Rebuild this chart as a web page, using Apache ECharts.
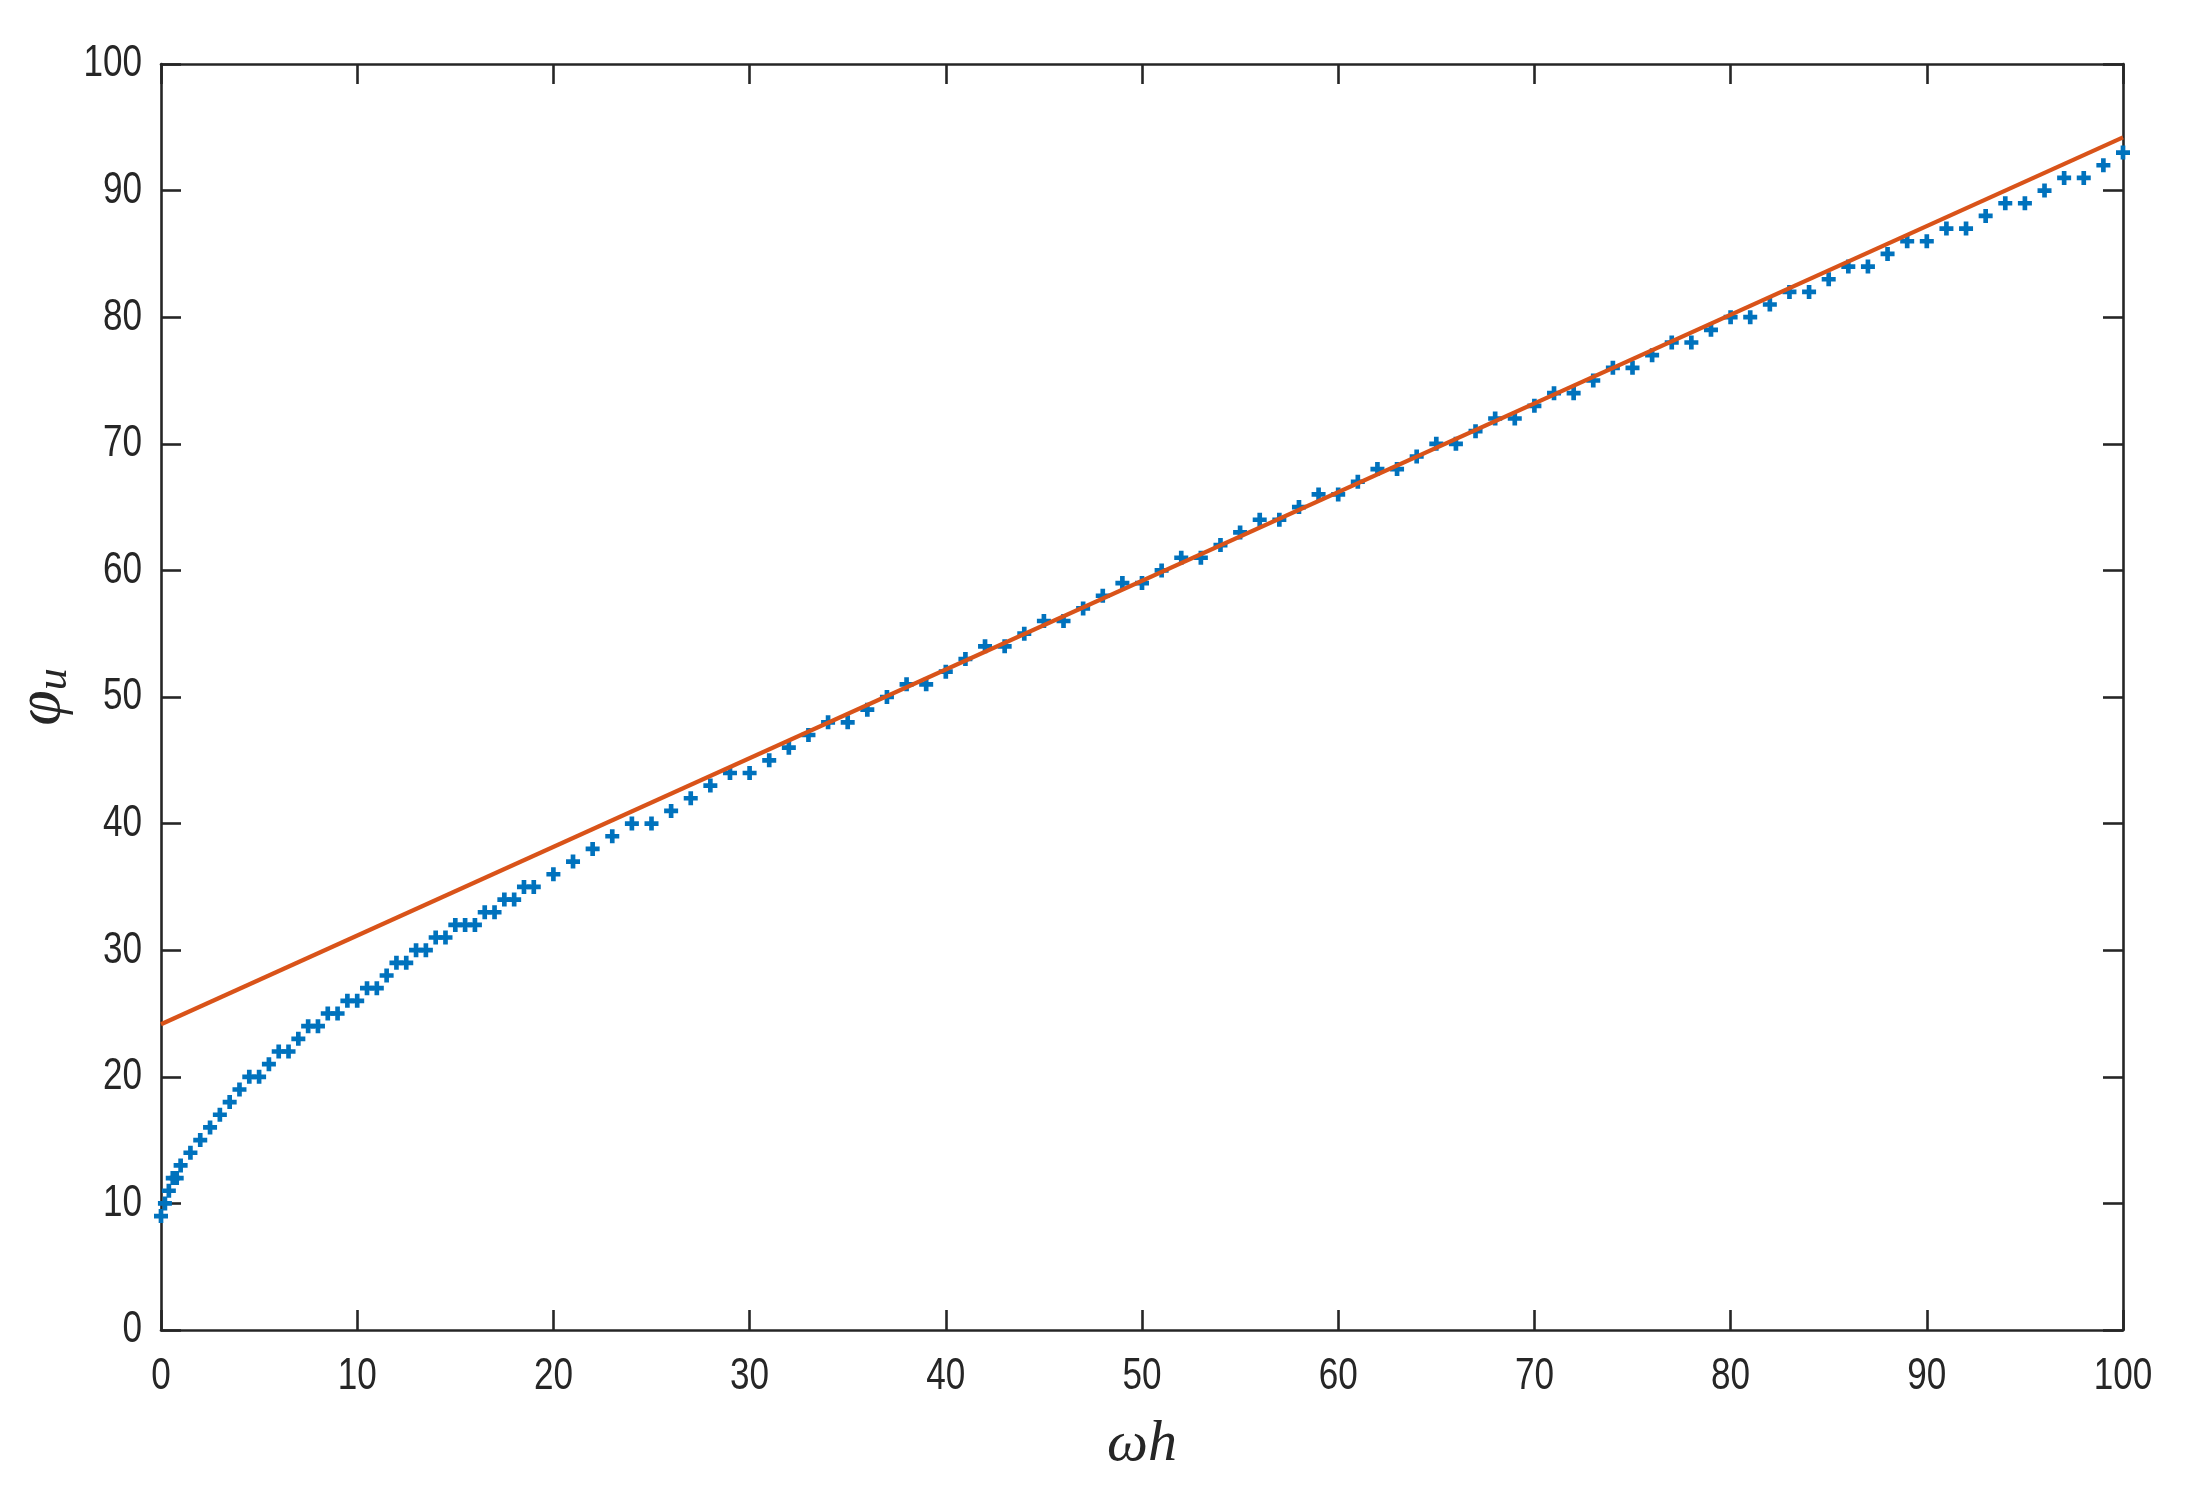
<!DOCTYPE html>
<html>
<head>
<meta charset="utf-8">
<script src="https://cdn.jsdelivr.net/npm/echarts@6/dist/echarts.min.js"></script>
<style>
html,body{margin:0;padding:0;background:#fff;}
#chart{width:2187px;height:1497px;}
</style>
</head>
<body>
<div id="chart"></div>
<script>
// ----- data -----
const omegaH = [0, 0.2, 0.4, 0.6, 0.8, 1.0, 1.5, 2, 2.5, 3, 3.5, 4, 4.5, 5, 5.5, 6, 6.5, 7, 7.5, 8, 8.5, 9, 9.5, 10,
  10.5, 11, 11.5, 12, 12.5, 13, 13.5, 14, 14.5, 15, 15.5, 16, 16.5, 17, 17.5, 18, 18.5, 19,
  20, 21, 22, 23, 24, 25, 26, 27, 28, 29, 30, 31, 32, 33, 34, 35, 36, 37, 38, 39, 40,
  41, 42, 43, 44, 45, 46, 47, 48, 49, 50, 51, 52, 53, 54, 55, 56, 57, 58, 59, 60,
  61, 62, 63, 64, 65, 66, 67, 68, 69, 70, 71, 72, 73, 74, 75, 76, 77, 78, 79, 80,
  81, 82, 83, 84, 85, 86, 87, 88, 89, 90, 91, 92, 93, 94, 95, 96, 97, 98, 99, 100];
const phiU = [9, 10, 11, 12, 12, 13, 14, 15, 16, 17, 18, 19, 20, 20, 21, 22, 22, 23, 24, 24, 25, 25, 26, 26,
  27, 27, 28, 29, 29, 30, 30, 31, 31, 32, 32, 32, 33, 33, 34, 34, 35, 35,
  36, 37, 38, 39, 40, 40, 41, 42, 43, 44, 44, 45, 46, 47, 48, 48, 49, 50, 51, 51, 52,
  53, 54, 54, 55, 56, 56, 57, 58, 59, 59, 60, 61, 61, 62, 63, 64, 64, 65, 66, 66,
  67, 68, 68, 69, 70, 70, 71, 72, 72, 73, 74, 74, 75, 76, 76, 77, 78, 78, 79, 80,
  80, 81, 82, 82, 83, 84, 84, 85, 86, 86, 87, 87, 88, 89, 89, 90, 91, 91, 92, 93];
const fitX = [0, 100];
const fitY = [24.15, 94.2];
const xTickLabels = [0, 10, 20, 30, 40, 50, 60, 70, 80, 90, 100];
const yTickLabels = [0, 10, 20, 30, 40, 50, 60, 70, 80, 90, 100];

// ----- chart -----
const scatterData = omegaH.map((x, i) => [x, phiU[i]]);
const lineData = fitX.map((x, i) => [x, fitY[i]]);
const xMin = xTickLabels[0], xMax = xTickLabels[xTickLabels.length - 1], xStep = xTickLabels[1] - xTickLabels[0];
const yMin = yTickLabels[0], yMax = yTickLabels[yTickLabels.length - 1], yStep = yTickLabels[1] - yTickLabels[0];

const AX = '#262626';
const tickFont = "'Liberation Sans', Arial, Helvetica, sans-serif";
const mathFont = "'Liberation Serif', 'DejaVu Serif', serif";
const plus = 'path://M4,0 L8,0 L8,4 L12,4 L12,8 L8,8 L8,12 L4,12 L4,8 L0,8 L0,4 L4,4 Z';
const LABEL_SIZE = 45, LABEL_SQUEEZE = 0.78;

function axisCommon(pos, isX) {
  return {
    type: 'value', position: pos,
    min: isX ? xMin : yMin, max: isX ? xMax : yMax, interval: isX ? xStep : yStep,
    axisLine: { show: true, onZero: false, lineStyle: { color: AX, width: 2.6 } },
    axisTick: { show: true, inside: true, length: 20, lineStyle: { color: AX, width: 2.6 } },
    axisLabel: { show: false },
    splitLine: { show: false }
  };
}

const xBottom = Object.assign(axisCommon('bottom', true), {
  name: 'ωh', nameLocation: 'middle', nameGap: 86,
  nameTextStyle: { fontFamily: mathFont, fontStyle: 'italic', fontSize: 58, color: AX }
});
const xTop = axisCommon('top', true);
const yLeft = Object.assign(axisCommon('left', false), {
  name: '{p|φ}{s|u}', nameLocation: 'middle', nameGap: 85, nameRotate: 90,
  nameTextStyle: {
    color: AX,
    rich: {
      p: { fontFamily: mathFont, fontStyle: 'italic', fontSize: 64, color: AX },
      s: { fontFamily: mathFont, fontStyle: 'italic', fontSize: 44, color: AX, verticalAlign: 'bottom', padding: [24, 0, 0, 0] }
    }
  }
});
const yRight = axisCommon('right', false);

// tick labels drawn through the axes' scales, horizontally condensed like the original
function xLabelItem(params, api) {
  const p = api.coord([api.value(0), yMin]);
  return {
    type: 'text', x: p[0], y: p[1] + 24, scaleX: LABEL_SQUEEZE, silent: true,
    style: { text: String(api.value(0)), fontSize: LABEL_SIZE, fontFamily: tickFont, fill: AX, align: 'center', verticalAlign: 'top' }
  };
}
function yLabelItem(params, api) {
  const p = api.coord([xMin, api.value(0)]);
  return {
    type: 'text', x: p[0] - 19, y: p[1], scaleX: LABEL_SQUEEZE, silent: true,
    style: { text: String(api.value(0)), fontSize: LABEL_SIZE, fontFamily: tickFont, fill: AX, align: 'right', verticalAlign: 'middle' }
  };
}

const chart = echarts.init(document.getElementById('chart'), null, { renderer: 'canvas' });
chart.setOption({
  animation: false,
  backgroundColor: '#ffffff',
  grid: { left: 161, right: 64, top: 64, bottom: 167, outerBoundsMode: 'none' },
  xAxis: [xBottom, xTop],
  yAxis: [yLeft, yRight],
  series: [
    {
      type: 'scatter', data: scatterData, symbol: plus, symbolSize: 14,
      itemStyle: { color: '#0072BD', opacity: 1 }, z: 2
    },
    {
      type: 'line', data: lineData, showSymbol: false, symbol: 'none',
      lineStyle: { color: '#D95319', width: 4.2 }, z: 3
    },
    {
      type: 'custom', clip: false, silent: true, tooltip: { show: false },
      data: xTickLabels.map(v => [v]), encode: { x: 0 }, renderItem: xLabelItem, z: 4
    },
    {
      type: 'custom', clip: false, silent: true, tooltip: { show: false },
      data: yTickLabels.map(v => [v]), encode: { y: 0 }, renderItem: yLabelItem, z: 4
    }
  ]
});
</script>
</body>
</html>
